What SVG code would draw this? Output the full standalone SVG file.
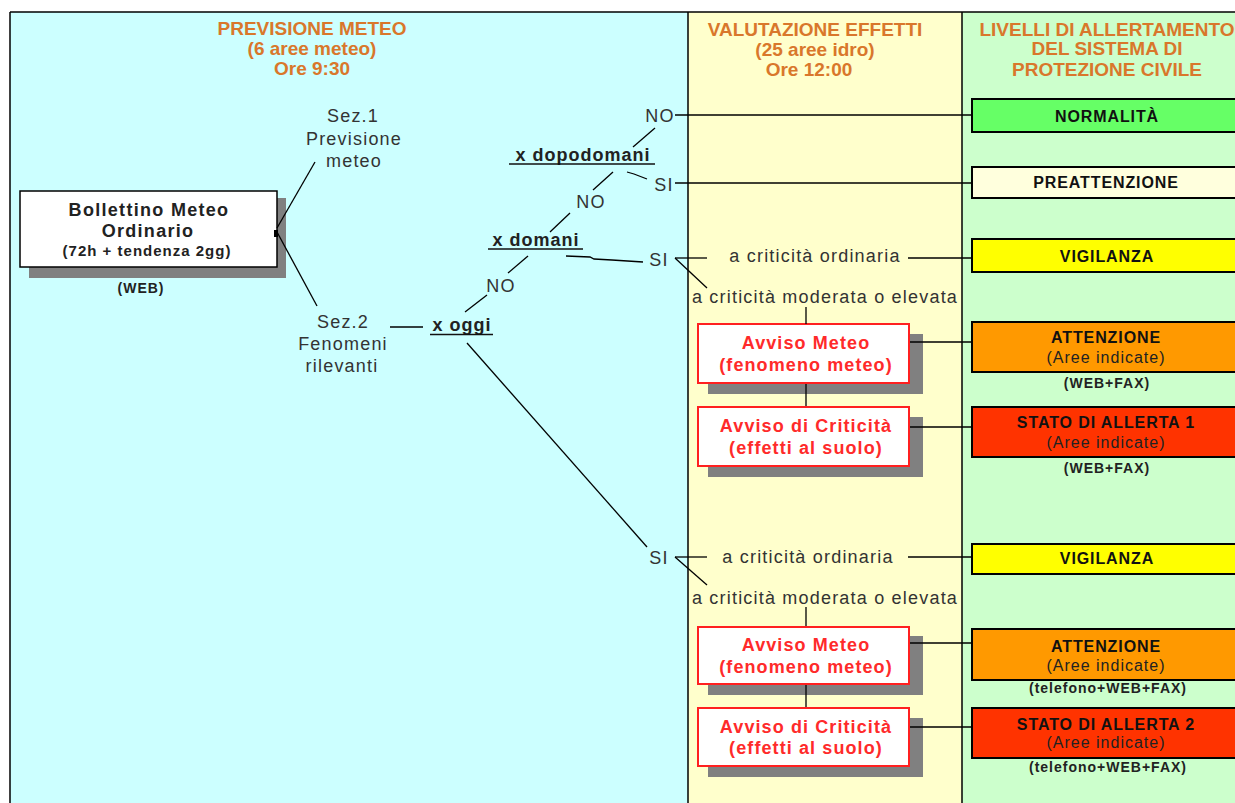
<svg xmlns="http://www.w3.org/2000/svg" width="1235" height="803" viewBox="0 0 1235 803">
<style>
text{font-family:"Liberation Sans",Arial,sans-serif;text-anchor:middle}
.hdr{font-size:19px;font-weight:bold;fill:#D9772B}
.t{font-size:18px;letter-spacing:1.2px;fill:#333}
.tb{font-size:18px;font-weight:bold;letter-spacing:1px;fill:#222}
.bb{font-size:18px;font-weight:bold;letter-spacing:1.3px;fill:#222}
.red{font-size:18px;font-weight:bold;letter-spacing:1.1px;fill:#FF2A2A}
.lvl{font-size:16px;font-weight:bold;letter-spacing:0.9px;fill:#111}
.sub{font-size:16px;letter-spacing:1px;fill:#222}
.ch{font-size:14px;font-weight:bold;letter-spacing:1px;fill:#222}
.shadow{fill:#808080}
.avv{fill:#fff;stroke:#FF2020;stroke-width:2}
.box{stroke:#000;stroke-width:2}
.ln{stroke:#000;stroke-width:1.3;fill:none}
.ul{stroke:#111;stroke-width:1.5}
.frame{stroke:#000;stroke-width:1.5;fill:none}
</style>
<g id="background">
<rect x="10" y="12" width="678" height="791" fill="#CCFFFF"/>
<rect x="688" y="12" width="274" height="791" fill="#FFFFCC"/>
<rect x="962" y="12" width="273" height="791" fill="#CCFFCC"/>
<line class="frame" x1="10" y1="12" x2="1235" y2="12"/>
<line class="frame" x1="10" y1="12" x2="10" y2="803"/>
<line class="frame" x1="688" y1="12" x2="688" y2="803"/>
<line class="frame" x1="962" y1="12" x2="962" y2="803"/>
</g>
<g id="headers">
<text class="hdr" x="312" y="35">PREVISIONE METEO</text>
<text class="hdr" x="312" y="55">(6 aree meteo)</text>
<text class="hdr" x="312" y="75">Ore 9:30</text>
<text class="hdr" x="815" y="36">VALUTAZIONE EFFETTI</text>
<text class="hdr" x="815" y="56">(25 aree idro)</text>
<text class="hdr" x="809" y="76">Ore 12:00</text>
<text class="hdr" x="1107" y="36">LIVELLI DI ALLERTAMENTO</text>
<text class="hdr" x="1107" y="55">DEL SISTEMA DI</text>
<text class="hdr" x="1107" y="76">PROTEZIONE CIVILE</text>
</g>
<g id="bollettino">
<rect class="shadow" x="29" y="198" width="257" height="80"/>
<rect x="20" y="191" width="257" height="76" fill="#fff" stroke="#000" stroke-width="1.5"/>
<rect x="274" y="230" width="4" height="7" fill="#000"/>
<text class="bb" x="149" y="216">Bollettino Meteo</text>
<text class="bb" x="148" y="237">Ordinario</text>
<text class="ch" x="147" y="256" style="font-size:15px">(72h + tendenza 2gg)</text>
<text class="ch" x="141" y="293">(WEB)</text>
</g>
<g id="sez1">
<text class="t" x="353" y="122">Sez.1</text>
<text class="t" x="354" y="145">Previsione</text>
<text class="t" x="354" y="167">meteo</text>
</g>
<g id="sez2">
<text class="t" x="343" y="328">Sez.2</text>
<text class="t" x="343" y="350">Fenomeni</text>
<text class="t" x="342" y="372">rilevanti</text>
</g>
<g id="x-oggi">
<text class="tb" x="462" y="331">x oggi</text>
<line class="ul" x1="430" y1="334.5" x2="493" y2="334.5"/>
</g>
<g id="x-domani">
<text class="tb" x="536" y="246">x domani</text>
<line class="ul" x1="488" y1="249" x2="583" y2="249"/>
</g>
<g id="x-dopodomani">
<text class="tb" x="583" y="161">x dopodomani</text>
<line class="ul" x1="509" y1="164" x2="655" y2="164"/>
</g>
<g id="labels">
<text class="t" x="660" y="122">NO</text>
<text class="t" x="591" y="208">NO</text>
<text class="t" x="501" y="292">NO</text>
<text class="t" x="664" y="191">SI</text>
<text class="t" x="659" y="266">SI</text>
<text class="t" x="659" y="564">SI</text>
</g>
<g id="criticita-1">
<text class="t" x="815" y="262">a criticità ordinaria</text>
<text class="t" x="825" y="303">a criticità moderata o elevata</text>
</g>
<g id="avviso-meteo-1">
<rect class="shadow" x="708" y="334" width="215" height="60"/>
<rect class="avv" x="698" y="324" width="211" height="59"/>
<text class="red" x="806" y="349">Avviso Meteo</text>
<text class="red" x="806" y="371">(fenomeno meteo)</text>
</g>
<g id="avviso-criticita-1">
<rect class="shadow" x="708" y="417" width="215" height="60"/>
<rect class="avv" x="698" y="407" width="211" height="59"/>
<text class="red" x="806" y="432">Avviso di Criticità</text>
<text class="red" x="806" y="454">(effetti al suolo)</text>
</g>
<g id="criticita-2">
<text class="t" x="808" y="563">a criticità ordinaria</text>
<text class="t" x="825" y="604">a criticità moderata o elevata</text>
</g>
<g id="avviso-meteo-2">
<rect class="shadow" x="708" y="636" width="215" height="59"/>
<rect class="avv" x="698" y="627" width="211" height="57"/>
<text class="red" x="806" y="651">Avviso Meteo</text>
<text class="red" x="806" y="673">(fenomeno meteo)</text>
</g>
<g id="avviso-criticita-2">
<rect class="shadow" x="708" y="718" width="215" height="59"/>
<rect class="avv" x="698" y="708" width="211" height="58"/>
<text class="red" x="806" y="733">Avviso di Criticità</text>
<text class="red" x="806" y="754">(effetti al suolo)</text>
</g>
<g id="normalita">
<rect class="box" x="972" y="99" width="275" height="33" fill="#66FF66"/>
<text class="lvl" x="1107" y="122">NORMALITÀ</text>
</g>
<g id="preattenzione">
<rect class="box" x="972" y="167" width="275" height="31" fill="#FFFFDD"/>
<text class="lvl" x="1106" y="188">PREATTENZIONE</text>
</g>
<g id="vigilanza-1">
<rect class="box" x="972" y="239" width="275" height="33" fill="#FFFF00"/>
<text class="lvl" x="1107" y="262">VIGILANZA</text>
</g>
<g id="attenzione-1">
<rect class="box" x="972" y="322" width="275" height="50" fill="#FF9900"/>
<text class="lvl" x="1106" y="343">ATTENZIONE</text>
<text class="sub" x="1106" y="363">(Aree indicate)</text>
<text class="ch" x="1107" y="388">(WEB+FAX)</text>
</g>
<g id="allerta-1">
<rect class="box" x="972" y="407" width="275" height="50" fill="#FF3300"/>
<text class="lvl" x="1106" y="428">STATO DI ALLERTA 1</text>
<text class="sub" x="1106" y="448">(Aree indicate)</text>
<text class="ch" x="1107" y="473">(WEB+FAX)</text>
</g>
<g id="vigilanza-2">
<rect class="box" x="972" y="544" width="275" height="30" fill="#FFFF00"/>
<text class="lvl" x="1107" y="564">VIGILANZA</text>
</g>
<g id="attenzione-2">
<rect class="box" x="972" y="629" width="275" height="51" fill="#FF9900"/>
<text class="lvl" x="1106" y="652">ATTENZIONE</text>
<text class="sub" x="1106" y="671">(Aree indicate)</text>
<text class="ch" x="1108" y="693">(telefono+WEB+FAX)</text>
</g>
<g id="allerta-2">
<rect class="box" x="972" y="708" width="275" height="50" fill="#FF3300"/>
<text class="lvl" x="1106" y="730">STATO DI ALLERTA 2</text>
<text class="sub" x="1106" y="748">(Aree indicate)</text>
<text class="ch" x="1108" y="772">(telefono+WEB+FAX)</text>
</g>
<g id="connectors">
<line class="ln" x1="277" y1="228" x2="315" y2="162"/>
<line class="ln" x1="277" y1="232" x2="317" y2="306"/>
<line class="ln" x1="390" y1="327" x2="423" y2="327"/>
<line class="ln" x1="465" y1="312" x2="487" y2="295"/>
<line class="ln" x1="467" y1="343" x2="647" y2="547"/>
<line class="ln" x1="508" y1="273" x2="528" y2="256"/>
<polyline class="ln" points="566,256 590,257 594,259 612,260 643,262"/>
<line class="ln" x1="570" y1="213" x2="550" y2="232"/>
<line class="ln" x1="613" y1="172" x2="593" y2="190"/>
<polyline class="ln" points="627,172 634,174 647,179"/>
<line class="ln" x1="655" y1="128" x2="633" y2="147"/>
<line class="ln" x1="675" y1="115" x2="972" y2="115"/>
<line class="ln" x1="675" y1="183" x2="972" y2="183"/>
<line class="ln" x1="675" y1="258" x2="707" y2="258"/>
<line class="ln" x1="908" y1="258" x2="972" y2="258"/>
<line class="ln" x1="675" y1="258" x2="707" y2="288"/>
<line class="ln" x1="806" y1="307" x2="806" y2="324"/>
<line class="ln" x1="806" y1="384" x2="806" y2="406"/>
<line class="ln" x1="910" y1="342" x2="972" y2="342"/>
<line class="ln" x1="910" y1="427" x2="972" y2="427"/>
<line class="ln" x1="675" y1="557" x2="707" y2="557"/>
<line class="ln" x1="908" y1="557" x2="972" y2="557"/>
<line class="ln" x1="675" y1="557" x2="707" y2="585"/>
<line class="ln" x1="806" y1="607" x2="806" y2="626"/>
<line class="ln" x1="806" y1="685" x2="806" y2="707"/>
<line class="ln" x1="910" y1="643" x2="972" y2="643"/>
<line class="ln" x1="910" y1="727" x2="972" y2="727"/>
</g>
</svg>
